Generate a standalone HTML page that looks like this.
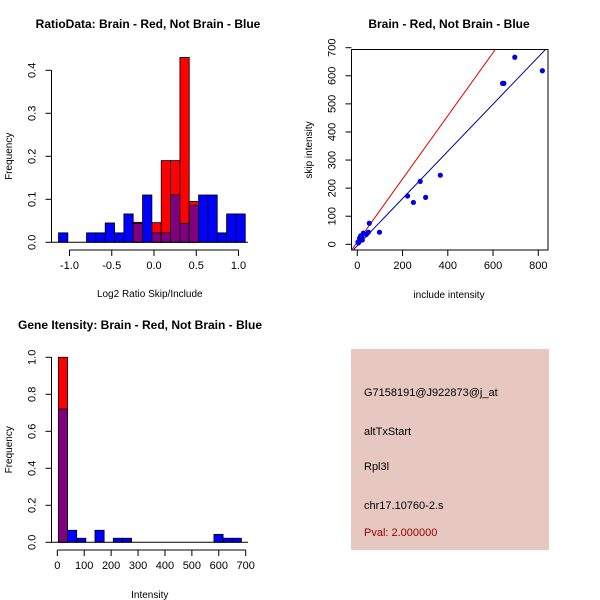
<!DOCTYPE html>
<html><head><meta charset="utf-8"><style>
html,body{margin:0;padding:0;background:#fff;}
svg{display:block;font-family:"Liberation Sans",Arial,sans-serif;}
</style></head><body>
<svg id="chart" width="600" height="600" viewBox="0 0 600 600" xmlns="http://www.w3.org/2000/svg">
<rect width="600" height="600" fill="#fff"/>
<g id="p1"></g>
<g id="p2"></g>
<g id="p3"></g>
<g id="p4">
<rect x="351" y="349" width="198" height="201" fill="#e6c8c0"/>
<text x="364" y="396" font-size="11" fill="#000">G7158191@J922873@j_at</text>
<text x="364" y="435" font-size="11" fill="#000">altTxStart</text>
<text x="364" y="470" font-size="11" fill="#000">Rpl3l</text>
<text x="364" y="509" font-size="11" fill="#000">chr17.10760-2.s</text>
<text x="364" y="536" font-size="11" fill="#a00000">Pval: 2.000000</text>
</g>
</svg>
<script>
// Panel 1 data: log2 ratio histogram
const ratioBinStart = -1.13;
const ratioBinWidth = 0.1105;
const ratioBlue = [0.022,0,0,0.022,0.022,0.045,0.022,0.066,0.044,0.11,0.022,0.022,0.11,0.044,0.086,0.11,0.11,0.022,0.066,0.066];
const ratioRed  = [0,0,0,0,0,0,0,0,0.0465,0,0.0457,0.19,0.19,0.43,0.095,0,0,0,0,0];
const ratioXTicks = [-1.0,-0.5,0.0,0.5,1.0];
const ratioXTickLabels = ["-1.0","-0.5","0.0","0.5","1.0"];
const ratioYTicks = [0,0.1,0.2,0.3,0.4];
const ratioYTickLabels = ["0.0","0.1","0.2","0.3","0.4"];
// Panel 2 data: scatter
const scatterX = [818,696,642,648,367,278,222,248,302,98,53,49,27,40,20,12,8,15,5,22,10,3];
const scatterY = [618,666,573,573,246,224,172,149,167,43,75,43,40,35,25,18,10,30,5,15,22,8];
const redSlope = 1.124, redIntercept = 8;
const blueSlope = 0.84, blueIntercept = -5;
const scatterXTicks = [0,200,400,600,800];
const scatterYTicks = [0,100,200,300,400,500,600,700];
// Panel 3 data: intensity histogram
const intBinStart = 4;
const intBinWidth = 34;
const intBlue = [0.72,0.065,0.022,0,0.065,0,0.022,0.022,0,0,0,0,0,0,0,0,0,0.043,0.022,0.022];
const intRed  = [1.0,0,0,0,0,0,0,0,0,0,0,0,0,0,0,0,0,0,0,0];
const intXTicks = [0,100,200,300,400,500,600,700];
const intYTicks = [0,0.2,0.4,0.6,0.8,1.0];
const intYTickLabels = ["0.0","0.2","0.4","0.6","0.8","1.0"];

const NS = "http://www.w3.org/2000/svg";
function mk(parent, tag, attrs, text){
  const e = document.createElementNS(NS, tag);
  for (const k in attrs) e.setAttribute(k, attrs[k]);
  if (text !== undefined) e.textContent = text;
  parent.appendChild(e);
  return e;
}
function lin(d0,d1,r0,r1){ return v => r0 + (v-d0)*(r1-r0)/(d1-d0); }

function histogram(g, cfg){
  const {x, y, start, width, blue, red, xTicks, xLabels, yTicks, yLabels, xAxisY, yAxisX, title, titleX, titleY, xlab, xlabY} = cfg;
  for (let i=0;i<blue.length;i++){
    const x0 = x(start + i*width), x1 = x(start + (i+1)*width);
    const b = blue[i], r = red[i];
    const hi = Math.max(b,r), lo = Math.min(b,r);
    if (hi <= 0) continue;
    const topColor = r >= b ? "#ff0000" : "#0000ff";
    const bar = mk(g,"rect",{x:x0,y:y(hi),width:x1-x0,height:y(0)-y(hi),fill:topColor,stroke:"#000","stroke-width":0.8});
    
    
    if (lo > 0){
      const ov = mk(g,"rect",{x:x0,y:y(lo),width:x1-x0,height:y(0)-y(lo),fill:"#800080",stroke:"#000","stroke-width":0.8});
      
      
    }
  }
  const xa = mk(g,"g",{});
  
  
  mk(xa,"line",{x1:x(xTicks[0]),x2:x(xTicks[xTicks.length-1]),y1:xAxisY,y2:xAxisY,stroke:"#000"});
  xTicks.forEach((t,i)=>{
    mk(xa,"line",{x1:x(t),x2:x(t),y1:xAxisY,y2:xAxisY+6,stroke:"#000"});
    const tl = mk(xa,"text",{x:x(t),y:xAxisY+19,"font-size":11,"text-anchor":"middle"},xLabels[i]);
    
    
  });
  const ya = mk(g,"g",{});
  
  
  mk(ya,"line",{x1:yAxisX,x2:yAxisX,y1:y(yTicks[0]),y2:y(yTicks[yTicks.length-1]),stroke:"#000"});
  yTicks.forEach((t,i)=>{
    mk(ya,"line",{x1:yAxisX-6,x2:yAxisX,y1:y(t),y2:y(t),stroke:"#000"});
    const lx = yAxisX-16;
    const tl = mk(ya,"text",{x:lx,y:y(t),"font-size":11,"text-anchor":"middle",transform:`rotate(-90 ${lx} ${y(t)})`},yLabels[i]);
    
    
  });
  mk(g,"line",{x1:cfg.baseX0,x2:cfg.baseX1,y1:y(0),y2:y(0),stroke:"#000"});
  const tt = mk(g,"text",{x:titleX,y:titleY,"font-size":12,"font-weight":"bold","text-anchor":"middle"},title);
  
  
  const xl = mk(g,"text",{x:(cfg.baseX0+cfg.baseX1)/2,y:xlabY,"font-size":10,"text-anchor":"middle"},xlab);
  
  
  const yc = (y(yTicks[0])+y(yTicks[yTicks.length-1]))/2;
  const yl = mk(g,"text",{x:12,y:yc,"font-size":10,"text-anchor":"middle",transform:`rotate(-90 12 ${yc})`},"Frequency");
  
  
}

histogram(document.getElementById("p1"), {
  x: lin(-1,1,69.5,238.5), y: lin(0,0.4,242.3,70.3),
  start: ratioBinStart, width: ratioBinWidth, blue: ratioBlue, red: ratioRed,
  xTicks: ratioXTicks, xLabels: ratioXTickLabels, yTicks: ratioYTicks, yLabels: ratioYTickLabels,
  xAxisY: 250, yAxisX: 51.5, title: "RatioData: Brain - Red, Not Brain - Blue", titleX: 148, titleY: 28,
  xlab: "Log2 Ratio Skip/Include", xlabY: 297, baseX0: 51.5, baseX1: 248
});
histogram(document.getElementById("p3"), {
  x: lin(0,700,57.3,245.7), y: lin(0,1,542.3,357.3),
  start: intBinStart, width: intBinWidth, blue: intBlue, red: intRed,
  xTicks: intXTicks, xLabels: intXTicks.map(String), yTicks: intYTicks, yLabels: intYTickLabels,
  xAxisY: 550, yAxisX: 51.5, title: "Gene Itensity: Brain - Red, Not Brain - Blue", titleX: 140, titleY: 329,
  xlab: "Intensity", xlabY: 598, baseX0: 51.5, baseX1: 248
});

(function(){
  const g = document.getElementById("p2");
  const x = lin(0,800,357.3,538.3), y = lin(0,700,244.3,47.7);
  const L=351.5, R=548, T=49.5, B=250;
  mk(g,"defs",{}).innerHTML = '<clipPath id="sc"><rect x="351.5" y="49.5" width="196.5" height="200.5"/></clipPath>';
  const box = mk(g,"rect",{x:L,y:T,width:R-L,height:B-T,fill:"none",stroke:"#000"});
  
  
  const lines = mk(g,"g",{"clip-path":"url(#sc)"});
  const xmin=-40, xmax=900;
  const rl = mk(lines,"line",{x1:x(xmin),y1:y(redIntercept+redSlope*xmin),x2:x(xmax),y2:y(redIntercept+redSlope*xmax),stroke:"#e00000","stroke-width":1});
  
  
  const bl = mk(lines,"line",{x1:x(xmin),y1:y(blueIntercept+blueSlope*xmin),x2:x(xmax),y2:y(blueIntercept+blueSlope*xmax),stroke:"#0000a0","stroke-width":1});
  
  
  scatterX.forEach((v,i)=>{
    const c = mk(g,"circle",{cx:x(v),cy:y(scatterY[i]),r:2.6,fill:"#0000e0"});
    
    
  });
  scatterXTicks.forEach(t=>{
    mk(g,"line",{x1:x(t),x2:x(t),y1:B,y2:B+6,stroke:"#000"});
    const tl = mk(g,"text",{x:x(t),y:B+19,"font-size":11,"text-anchor":"middle"},String(t));
    
    
  });
  scatterYTicks.forEach(t=>{
    mk(g,"line",{x1:L-6,x2:L,y1:y(t),y2:y(t),stroke:"#000"});
    const lx = L-16;
    const tl = mk(g,"text",{x:lx,y:y(t),"font-size":11,"text-anchor":"middle",transform:`rotate(-90 ${lx} ${y(t)})`},String(t));
    
    
  });
  const tt = mk(g,"text",{x:449,y:28,"font-size":12,"font-weight":"bold","text-anchor":"middle"},"Brain - Red, Not Brain - Blue");
  
  
  const xl = mk(g,"text",{x:449,y:298,"font-size":10,"text-anchor":"middle"},"include intensity");
  
  
  const yl = mk(g,"text",{x:312,y:150,"font-size":10,"text-anchor":"middle",transform:"rotate(-90 312 150)"},"skip intensity");
  
  
})();
</script>
</body></html>
